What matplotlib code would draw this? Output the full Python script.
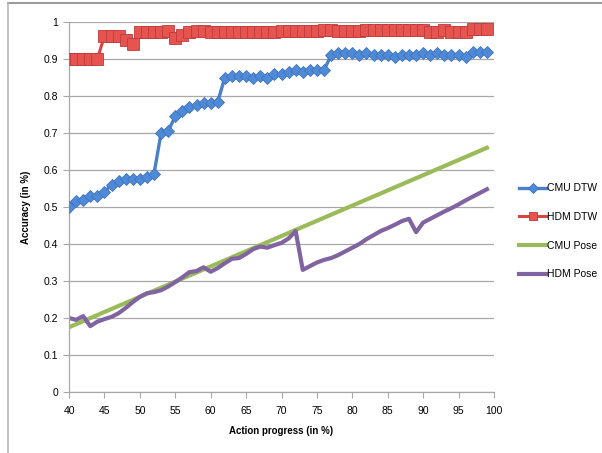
import numpy as np
import matplotlib
matplotlib.use('Agg')
import matplotlib.pyplot as plt
from matplotlib.lines import Line2D

plt.rcParams['font.family'] = ['Liberation Sans Narrow', 'Liberation Sans', 'DejaVu Sans']
plt.rcParams['font.size'] = 7.5

# Action progress (in %), one sample per point
progress = list(range(40, 100))

cmu_dtw = [0.50, 0.515, 0.52, 0.53, 0.53, 0.54, 0.56, 0.57, 0.575, 0.575,
           0.575, 0.58, 0.59, 0.70, 0.705, 0.745, 0.76, 0.77, 0.775, 0.78,
           0.78, 0.785, 0.85, 0.855, 0.855, 0.855, 0.85, 0.855, 0.85, 0.86,
           0.86, 0.865, 0.87, 0.865, 0.87, 0.87, 0.87, 0.91, 0.915, 0.915,
           0.915, 0.91, 0.915, 0.91, 0.91, 0.91, 0.905, 0.91, 0.91, 0.91,
           0.915, 0.91, 0.915, 0.91, 0.91, 0.91, 0.905, 0.92, 0.92, 0.92]

hdm_dtw = [0.90, 0.90, 0.90, 0.90, 0.90, 0.962, 0.962, 0.962, 0.952, 0.94,
           0.972, 0.972, 0.972, 0.972, 0.976, 0.958, 0.966, 0.972, 0.976, 0.976,
           0.972, 0.972, 0.972, 0.972, 0.972, 0.972, 0.972, 0.972, 0.972, 0.972,
           0.975, 0.975, 0.975, 0.975, 0.975, 0.975, 0.978, 0.978, 0.975, 0.975,
           0.975, 0.975, 0.978, 0.978, 0.978, 0.978, 0.978, 0.978, 0.978, 0.978,
           0.978, 0.972, 0.972, 0.978, 0.972, 0.972, 0.972, 0.98, 0.98, 0.98]

pose_x = [40, 99]
cmu_pose = [0.175, 0.66]

hdm_pose = [0.20, 0.195, 0.205, 0.178, 0.19, 0.197, 0.203, 0.213, 0.227, 0.243,
            0.257, 0.267, 0.27, 0.275, 0.285, 0.297, 0.31, 0.324, 0.327, 0.337,
            0.325, 0.335, 0.348, 0.36, 0.362, 0.373, 0.386, 0.393, 0.39, 0.397,
            0.403, 0.415, 0.435, 0.33, 0.34, 0.35, 0.357, 0.362, 0.37, 0.38,
            0.39, 0.40, 0.413, 0.424, 0.435, 0.443, 0.452, 0.462, 0.468, 0.432,
            0.458, 0.468, 0.478, 0.488, 0.497, 0.507, 0.518, 0.528, 0.538, 0.548]

fig = plt.figure(figsize=(6.02, 4.53), dpi=100)
ax = fig.add_axes([69 / 602, 1 - 392 / 453, 425 / 602, 370 / 453])

ax.plot(pose_x, cmu_pose, color='#9bbb59', lw=3.0, label='CMU Pose', zorder=2)
ax.plot(progress, hdm_pose, color='#8064a2', lw=3.0, label='HDM Pose', zorder=2)
ax.plot(progress, cmu_dtw, color='#4a7fc9', lw=2.4, marker='D', ms=6.5,
        mfc='#4f8ad8', mec='#3f74bd', mew=0.6, label='CMU DTW', zorder=3)
ax.plot(progress, hdm_dtw, color='#d9453f', lw=2.2, marker='s', ms=8.5,
        mfc='#e6544f', mec='#c0393a', mew=0.6, label='HDM DTW', zorder=3)

ax.set_xlim(40, 100)
ax.set_ylim(0, 1)
ax.set_xticks(range(40, 101, 5))
ax.set_yticks(np.arange(0, 1.01, 0.1))
ax.set_yticklabels(['0'] + [f'{v:.1f}' for v in np.arange(0.1, 0.95, 0.1)] + ['1'])
ax.grid(axis='y', color='#a8a8a8', lw=0.9)
ax.set_axisbelow(True)
for s in ['top', 'right']:
    ax.spines[s].set_visible(False)
for s in ['left', 'bottom']:
    ax.spines[s].set_color('#a8a8a8')
    ax.spines[s].set_linewidth(0.9)
ax.tick_params(axis='both', direction='out', length=4, color='#a8a8a8',
               labelsize=7.5, pad=4)
ax.tick_params(axis='x', pad=6)

ax.set_xlabel('Action progress (in %)', fontweight='bold', fontsize=7, labelpad=7)
ax.set_ylabel('Accuracy (in %)', fontweight='bold', fontsize=7, labelpad=9)

handles, labels = ax.get_legend_handles_labels()
order = [2, 3, 0, 1]
fig.legend([handles[i] for i in order], [labels[i] for i in order],
           loc='upper left', bbox_to_anchor=(515 / 602, 1 - 179 / 453),
           frameon=False, fontsize=7.5, handlelength=2.6, handletextpad=0.1,
           labelspacing=1.8, borderaxespad=0, markerscale=0.75)

# outer frame (top and left edges only)
fig.add_artist(Line2D([8 / 602, 1], [1 - 3 / 453, 1 - 3 / 453],
                      transform=fig.transFigure, color='#9a9a9a', lw=1.5))
fig.add_artist(Line2D([8 / 602, 8 / 602], [0, 1 - 3 / 453],
                      transform=fig.transFigure, color='#b8b8b8', lw=1.2))

fig.savefig('out.png', dpi=100, facecolor='white')
